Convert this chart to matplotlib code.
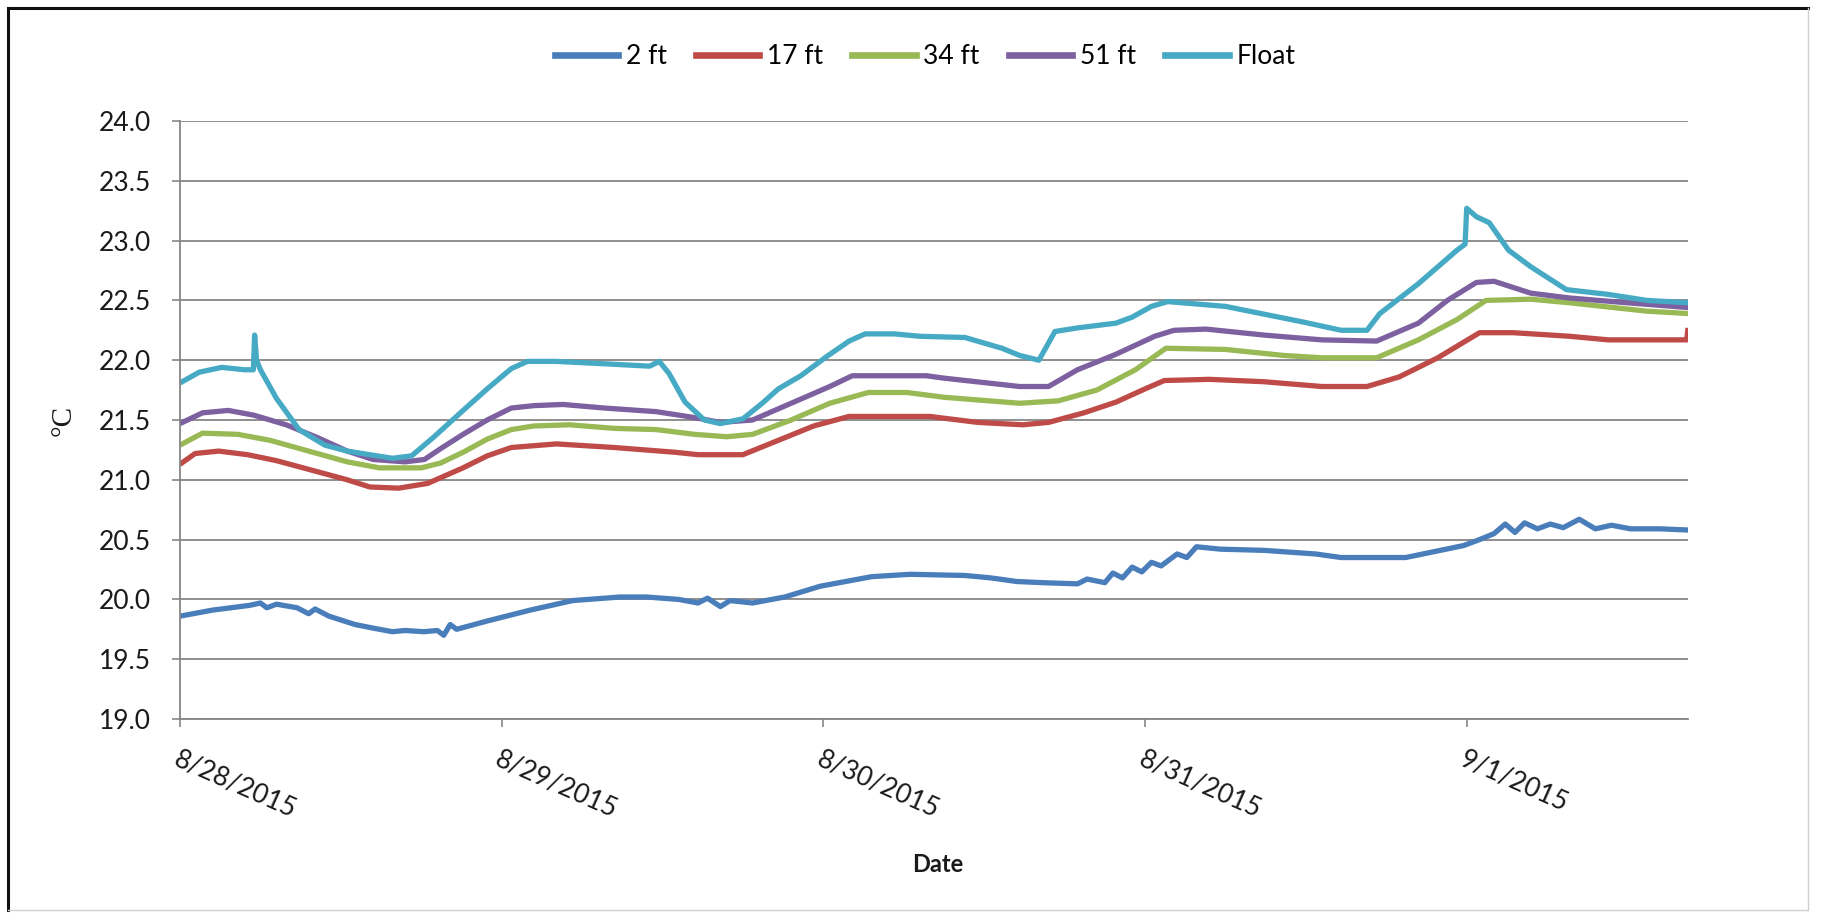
import matplotlib
matplotlib.use("Agg")
import matplotlib.pyplot as plt
from matplotlib.lines import Line2D
from matplotlib.ticker import FormatStrFormatter

# ---------------- data (days since 8/28/2015 00:00) ----------------
tick_days = [0, 1, 2, 3, 4]
tick_labels = ["8/28/2015", "8/29/2015", "8/30/2015", "8/31/2015", "9/1/2015"]
series_names = ["2 ft", "17 ft", "34 ft", "51 ft", "Float"]

t_2ft = [0.0, 0.1, 0.216, 0.25, 0.27, 0.30, 0.364, 0.40, 0.42, 0.463, 0.544, 0.60,
         0.66, 0.70, 0.758, 0.80, 0.82, 0.84, 0.86, 0.956, 1.088, 1.22, 1.368, 1.45,
         1.55, 1.61, 1.64, 1.68, 1.71, 1.78, 1.88, 1.99, 2.15, 2.27, 2.44, 2.52, 2.60,
         2.68, 2.79, 2.82, 2.875, 2.90, 2.93, 2.96, 2.99, 3.02, 3.05, 3.10, 3.13, 3.16,
         3.235, 3.37, 3.53, 3.61, 3.81, 3.90, 3.99, 4.04, 4.085, 4.12, 4.15, 4.18, 4.22,
         4.26, 4.30, 4.35, 4.40, 4.45, 4.51, 4.60, 4.69]
v_2ft = [19.86, 19.91, 19.95, 19.97, 19.93, 19.96, 19.93, 19.88, 19.92, 19.86, 19.79, 19.76,
         19.73, 19.74, 19.73, 19.74, 19.70, 19.79, 19.75, 19.82, 19.91, 19.99, 20.02, 20.02,
         20.00, 19.97, 20.01, 19.94, 19.99, 19.97, 20.02, 20.11, 20.19, 20.21, 20.20, 20.18, 20.15,
         20.14, 20.13, 20.17, 20.14, 20.22, 20.18, 20.27, 20.23, 20.31, 20.28, 20.38, 20.35, 20.44,
         20.42, 20.41, 20.38, 20.35, 20.35, 20.40, 20.45, 20.50, 20.55, 20.63, 20.56, 20.64, 20.59,
         20.63, 20.60, 20.67, 20.59, 20.62, 20.59, 20.59, 20.58]

t_17ft = [0.0, 0.047, 0.12, 0.21, 0.30, 0.41, 0.52, 0.59, 0.68, 0.77, 0.88, 0.955, 1.03,
          1.17, 1.35, 1.54, 1.61, 1.75, 1.86, 1.97, 2.08, 2.33, 2.48, 2.62, 2.70, 2.81,
          2.91, 3.00, 3.06, 3.20, 3.37, 3.55, 3.69, 3.79, 3.91, 4.04, 4.145, 4.32, 4.44,
          4.684, 4.688]
v_17ft = [21.13, 21.22, 21.24, 21.21, 21.16, 21.08, 21.00, 20.94, 20.93, 20.97, 21.10, 21.20, 21.27,
          21.30, 21.27, 21.23, 21.21, 21.21, 21.33, 21.45, 21.53, 21.53, 21.48, 21.46, 21.48, 21.56,
          21.65, 21.76, 21.83, 21.84, 21.82, 21.78, 21.78, 21.86, 22.02, 22.23, 22.23, 22.20, 22.17,
          22.17, 22.27]

t_34ft = [0.0, 0.07, 0.18, 0.28, 0.40, 0.52, 0.62, 0.75, 0.81, 0.88, 0.955, 1.03, 1.10,
          1.21, 1.35, 1.48, 1.60, 1.70, 1.78, 1.90, 2.02, 2.14, 2.26, 2.375, 2.61, 2.73,
          2.85, 2.97, 3.065, 3.25, 3.43, 3.55, 3.72, 3.85, 3.97, 4.06, 4.20, 4.32, 4.56, 4.69]
v_34ft = [21.29, 21.39, 21.38, 21.33, 21.24, 21.15, 21.10, 21.10, 21.14, 21.23, 21.34, 21.42, 21.45,
          21.46, 21.43, 21.42, 21.38, 21.36, 21.38, 21.50, 21.64, 21.73, 21.73, 21.69, 21.64, 21.66,
          21.75, 21.92, 22.10, 22.09, 22.04, 22.02, 22.02, 22.17, 22.34, 22.50, 22.51, 22.48, 22.41, 22.39]

t_51ft = [0.0, 0.07, 0.15, 0.23, 0.33, 0.43, 0.52, 0.60, 0.70, 0.76, 0.81, 0.88, 0.955,
          1.03, 1.10, 1.19, 1.32, 1.48, 1.60, 1.68, 1.78, 1.90, 2.02, 2.09, 2.32, 2.375,
          2.61, 2.70, 2.79, 2.91, 3.03, 3.09, 3.19, 3.37, 3.55, 3.72, 3.85, 3.94, 4.03,
          4.085, 4.20, 4.32, 4.50, 4.69]
v_51ft = [21.47, 21.56, 21.58, 21.54, 21.46, 21.35, 21.24, 21.17, 21.15, 21.17, 21.26, 21.38, 21.50,
          21.60, 21.62, 21.63, 21.60, 21.57, 21.52, 21.48, 21.50, 21.64, 21.78, 21.87, 21.87, 21.85,
          21.78, 21.78, 21.92, 22.05, 22.20, 22.25, 22.26, 22.21, 22.17, 22.16, 22.31, 22.50, 22.65,
          22.66, 22.56, 22.52, 22.48, 22.44]

t_float = [0.0, 0.06, 0.13, 0.20, 0.228, 0.232, 0.238, 0.25, 0.30, 0.37, 0.45, 0.52, 0.59,
           0.66, 0.72, 0.79, 0.88, 0.955, 1.03, 1.08, 1.17, 1.32, 1.46, 1.49, 1.52, 1.57,
           1.63, 1.68, 1.75, 1.81, 1.86, 1.93, 2.01, 2.08, 2.13, 2.22, 2.30, 2.44, 2.555,
           2.61, 2.67, 2.72, 2.79, 2.91, 2.96, 3.02, 3.07, 3.25, 3.49, 3.61, 3.69, 3.73,
           3.85, 3.97, 3.995, 4.00, 4.03, 4.07, 4.13, 4.20, 4.31, 4.44, 4.56, 4.69]
v_float = [21.81, 21.90, 21.94, 21.92, 21.92, 22.21, 22.00, 21.92, 21.68, 21.42, 21.29, 21.24, 21.21,
           21.18, 21.20, 21.36, 21.58, 21.76, 21.93, 21.99, 21.99, 21.97, 21.95, 21.99, 21.89, 21.65,
           21.50, 21.47, 21.51, 21.64, 21.76, 21.87, 22.03, 22.16, 22.22, 22.22, 22.20, 22.19, 22.10,
           22.04, 22.00, 22.24, 22.27, 22.31, 22.36, 22.45, 22.49, 22.45, 22.32, 22.25, 22.25, 22.39,
           22.64, 22.92, 22.97, 23.27, 23.20, 23.15, 22.92, 22.78, 22.59, 22.55, 22.50, 22.48]

colors = ["#4A7EBB", "#BE4B48", "#98B954", "#7D60A0", "#46AAC5"]

# ---------------- figure ----------------
W, H = 1824, 917
fig = plt.figure(figsize=(W / 100, H / 100), dpi=100)
fig.patch.set_facecolor("white")

ax_left, ax_right, ax_top, ax_bot = 180, 1688, 121, 719
ax = fig.add_axes([ax_left / W, 1 - ax_bot / H, (ax_right - ax_left) / W, (ax_bot - ax_top) / H])

font = "Lato"
grid_col = "#868686"

all_t = [t_2ft, t_17ft, t_34ft, t_51ft, t_float]
all_v = [v_2ft, v_17ft, v_34ft, v_51ft, v_float]
for t, v, c, name in zip(all_t, all_v, colors, series_names):
    ax.plot(t, v, color=c, lw=3.8, label=name, solid_joinstyle="round", solid_capstyle="butt")

ax.set_xlim(0, 4.688)
ax.set_ylim(19.0, 24.0)
ax.set_yticks([19.0 + 0.5 * i for i in range(11)])
ax.yaxis.set_major_formatter(FormatStrFormatter("%.1f"))
ax.set_xticks(tick_days)
ax.set_xticklabels(tick_labels, rotation=-24, ha="left", va="top", rotation_mode="anchor",
                   fontsize=19, family=font)
for lab in ax.get_yticklabels():
    lab.set_fontsize(19)
    lab.set_family(font)

ax.grid(axis="y", color=grid_col, lw=1.3)
ax.set_axisbelow(True)
for s in ["top", "right"]:
    ax.spines[s].set_visible(False)
for s in ["left", "bottom"]:
    ax.spines[s].set_color(grid_col)
    ax.spines[s].set_linewidth(1.3)
ax.tick_params(axis="y", length=6, width=1.2, color=grid_col, pad=15, labelcolor="#1a1a1a")
ax.tick_params(axis="x", length=6, width=1.2, color=grid_col, pad=14, labelcolor="#1a1a1a")

# axis titles
fig.text(64 / W, 1 - 420 / H, "°C", rotation=90, ha="center", va="center",
         fontsize=21, family="Liberation Serif", color="#1a1a1a")
fig.text(938 / W, 1 - 864 / H, "Date", ha="center", va="center",
         fontsize=17, family=font, fontweight="bold", color="#1a1a1a")

# legend
handles = [Line2D([0], [0], color=c, lw=4.8) for c in colors]
fig.legend(handles, series_names, loc="center", bbox_to_anchor=(925 / W, 1 - 57 / H),
           ncol=5, frameon=False, prop={"family": font, "size": 19},
           handlelength=2.4, handletextpad=0.3, columnspacing=1.1, borderaxespad=0)

# outer frame
def fline(x0, y0, x1, y1, **kw):
    fig.add_artist(Line2D([x0 / W, x1 / W], [1 - y0 / H, 1 - y1 / H],
                          transform=fig.transFigure, **kw))

fline(8, 8, 1808, 8, color="#111111", lw=2.2)
fline(8, 8, 8, 910, color="#111111", lw=2.2)
fline(1808, 8, 1808, 910, color="#d0d0d0", lw=1.0)
fline(8, 910, 1808, 910, color="#d0d0d0", lw=1.0)

fig.savefig("out.png", dpi=100, facecolor="white")
